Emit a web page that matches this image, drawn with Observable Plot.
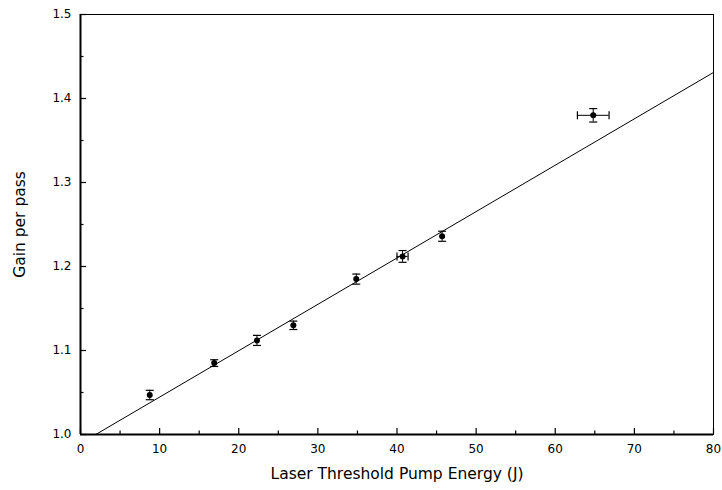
<!DOCTYPE html>
<html>
<head>
<meta charset="utf-8">
<script src="https://cdn.jsdelivr.net/npm/d3@7"></script>
<script src="https://cdn.jsdelivr.net/npm/@observablehq/plot@0.6"></script>
<style>
  html, body { margin: 0; padding: 0; background: #fff; }
</style>
</head>
<body>
<div id="chart"></div>
<script>
// Measured points
const energy = [8.75, 16.9, 22.3, 26.9, 34.85, 40.7, 45.7, 64.8];
const gain   = [1.047, 1.085, 1.112, 1.130, 1.185, 1.212, 1.236, 1.380];
const gainErr   = [0.0056, 0.004, 0.006, 0.005, 0.006, 0.007, 0.006, 0.008];
const energyErr = [0, 0, 0, 0, 0, 0.7, 0, 2.0];
// Linear fit endpoints
const fitX = [1.93, 80];
const fitY = [1.0, 1.431];
// Ticks
const xMajor = [0, 10, 20, 30, 40, 50, 60, 70, 80];
const xMinor = [5, 15, 25, 35, 45, 55, 65, 75];
const yMajor = [1.0, 1.1, 1.2, 1.3, 1.4, 1.5];
const yMinor = [1.05, 1.15, 1.25, 1.35, 1.45];
const xLabel = "Laser Threshold Pump Energy (J)";
const yLabel = "Gain per pass";

const pts = energy.map((x, i) => ({x, y: gain[i], ey: gainErr[i], ex: energyErr[i]}));
const fit = fitX.map((x, i) => ({x, y: fitY[i]}));

const W = 722, H = 490;
const mL = 80, mR = 9, mT = 14, mB = 56;
const pw = W - mL - mR, ph = H - mT - mB;

const hCap = {draw(ctx) { ctx.moveTo(-4, 0); ctx.lineTo(4, 0); }};
const vCap = {draw(ctx) { ctx.moveTo(0, -4); ctx.lineTo(0, 4); }};

const chart = Plot.plot({
  width: W, height: H,
  marginLeft: mL, marginRight: mR, marginTop: mT, marginBottom: mB,
  style: {fontFamily: "DejaVu Sans, sans-serif", fontSize: "12px", background: "#fff", color: "#000"},
  x: {domain: [0, 80]},
  y: {domain: [1.0, 1.5]},
  marks: [
    Plot.frame({stroke: "#000", strokeWidth: 1}),
    Plot.ruleX([0], {stroke: "#000", strokeWidth: 2}),
    Plot.ruleY([1.0], {stroke: "#000", strokeWidth: 2}),
    // inward ticks
    Plot.tickX(xMajor, {x: d => d, insetTop: ph - 6, stroke: "#000", strokeWidth: 1.2}),
    Plot.tickX(xMinor, {x: d => d, insetTop: ph - 3.5, stroke: "#000", strokeWidth: 1.2}),
    Plot.tickY(yMajor, {y: d => d, insetRight: pw - 6, stroke: "#000", strokeWidth: 1.2}),
    Plot.tickY(yMinor, {y: d => d, insetRight: pw - 3.5, stroke: "#000", strokeWidth: 1.2}),
    Plot.axisX(xMajor, {tickSize: 0, tickPadding: 10, label: null, fontSize: 12}),
    Plot.axisY(yMajor, {tickSize: 0, tickPadding: 9, label: null, fontSize: 12, tickFormat: d3.format(".1f")}),
    Plot.text([xLabel], {frameAnchor: "bottom", textAnchor: "middle", dy: 44, fontSize: 15.5, fill: "#000"}),
    Plot.text([yLabel], {frameAnchor: "left", textAnchor: "middle", dx: -60, rotate: -90, fontSize: 15.5, fill: "#000"}),
    // fit line
    Plot.line(fit, {x: "x", y: "y", stroke: "#000", strokeWidth: 1, clip: true}),
    // error bars
    Plot.ruleX(pts, {x: "x", y1: d => d.y - d.ey, y2: d => d.y + d.ey, stroke: "#000", strokeWidth: 1}),
    Plot.dot(pts, {x: "x", y: d => d.y - d.ey, symbol: hCap, stroke: "#000", strokeWidth: 1.2}),
    Plot.dot(pts, {x: "x", y: d => d.y + d.ey, symbol: hCap, stroke: "#000", strokeWidth: 1.2}),
    Plot.ruleY(pts.filter(d => d.ex > 0), {y: "y", x1: d => d.x - d.ex, x2: d => d.x + d.ex, stroke: "#000", strokeWidth: 1}),
    Plot.dot(pts.filter(d => d.ex > 0), {x: d => d.x - d.ex, y: "y", symbol: vCap, stroke: "#000", strokeWidth: 1.2}),
    Plot.dot(pts.filter(d => d.ex > 0), {x: d => d.x + d.ex, y: "y", symbol: vCap, stroke: "#000", strokeWidth: 1.2}),
    Plot.dot(pts, {x: "x", y: "y", r: 3, fill: "#000", stroke: "none"})
  ]
});
document.getElementById("chart").appendChild(chart);
</script>
</body>
</html>
